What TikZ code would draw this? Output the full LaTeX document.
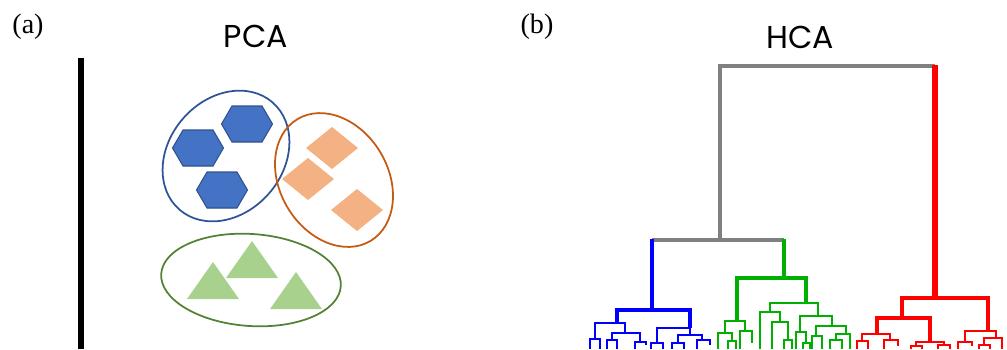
\documentclass[tikz,border=0pt]{standalone}
\usepackage{fontspec}
\setmainfont{Liberation Serif}
\newfontfamily\titlefont{Poppins}
\usetikzlibrary{shapes.geometric}

\definecolor{hexblue}{HTML}{4472C4}
\definecolor{hexedge}{HTML}{2F528F}
\definecolor{ringblue}{HTML}{2F5597}
\definecolor{ringorange}{HTML}{C55A11}
\definecolor{ringgreen}{HTML}{548235}
\definecolor{diamondfill}{HTML}{F4B183}
\definecolor{trifill}{HTML}{A9D18E}
\definecolor{treegray}{HTML}{808080}
\definecolor{treeblue}{HTML}{0000FF}
\definecolor{treegreen}{HTML}{00B000}
\definecolor{treered}{HTML}{FF0000}

% one U-shaped merge of the dendrogram: x-left, x-right, merge height, foot heights
\newcommand{\dlink}[6][]{\draw[#1] (#2,#5) -- (#2,#4) -- (#3,#4) -- (#3,#6);}

\begin{document}
\begin{tikzpicture}[x=0.2mm, y=-0.2mm,
    panel/.style={font=\fontsize{16}{19}\selectfont},
    title/.style={font=\titlefont\fontsize{18}{21}\selectfont},
    ring/.style={draw, ellipse, line width=1pt, inner sep=0pt},
    hexa/.pic={\filldraw[fill=hexblue, draw=hexedge, line width=0.6pt] (-25.5,0) -- (-15,-18) -- (15,-18) -- (25.5,0) -- (15,18) -- (-15,18) -- cycle;},
    rhomb/.pic={\fill[diamondfill] (0,-21) -- (26,0) -- (0,21) -- (-26,0) -- cycle;},
    tri/.pic={\fill[trifill] (0,-19) -- (26,18) -- (-26,18) -- cycle;},
    link/.style={line join=miter},
    gtrunk/.style={link, treegray, line width=2.8pt},
    bthick/.style={link, treeblue, line width=2.4pt},
    bthin/.style={link, treeblue, line width=0.8pt},
    gthick/.style={link, treegreen, line width=2.4pt},
    gmid/.style={link, treegreen, line width=1.6pt},
    gthin/.style={link, treegreen, line width=0.8pt},
    rthick/.style={link, treered, line width=2.8pt},
    rmid/.style={link, treered, line width=1.8pt},
    rthin/.style={link, treered, line width=0.8pt}
]
    \useasboundingbox (0,0) rectangle (1007,349);

    % panel labels
    \node[panel] (pa) at (28,27) {(a)};
    \node[panel] (pb) at (537,27) {(b)};
    \node[title] (pca) at (256,36) {PCA};
    \node[title] (hca) at (800,37) {HCA};

    % PCA: axis and three clusters
    \draw[line width=3.4pt] (81,58) -- (81,349);
    \node[ring, draw=ringblue, minimum width=28.4mm, minimum height=22.8mm, rotate=49] (cblue) at (226,156) {};
    \node[ring, draw=ringorange, minimum width=28.4mm, minimum height=21.6mm, rotate=-59] (corange) at (334,180) {};
    \node[ring, draw=ringgreen, minimum width=36mm, minimum height=18.4mm, rotate=-4] (cgreen) at (251,280) {};

    \pic at (247,124) {hexa};
    \pic at (198,148) {hexa};
    \pic at (222,190) {hexa};
    \pic at (332,148) {rhomb};
    \pic at (308,179) {rhomb};
    \pic at (357,210) {rhomb};
    \pic at (213,281) {tri};
    \pic at (252,260) {tri};
    \pic at (296,291) {tri};

    % HCA: top merges
    \draw[gtrunk] (720,240) -- (720,66) -- (935,66);
    \draw[gtrunk] (652,240) -- (784,240);
    \draw[rthick, line width=3.4pt] (935,65) -- (935,298);
    \draw[bthick, line width=2.8pt] (652,239) -- (652,310);
    \draw[gthick, line width=2.8pt] (784,239) -- (784,278);

    % blue branch
    \dlink[bthick]{617}{690}{310}{323}{328}
    \dlink[bthin]{595}{625}{323}{339}{333}
    \dlink[bthin]{590}{600}{339}{349}{349}
    \dlink[bthin]{612}{640}{333}{340}{342}
    \dlink[bthin]{607}{617}{340}{349}{349}
    \dlink[bthin]{635}{646}{342}{349}{345}
    \dlink[bthin]{657}{690}{328}{343}{335}
    \dlink[bthin]{651}{663}{343}{349}{349}
    \dlink[bthin]{678}{702}{335}{343}{340}
    \dlink[bthin]{672}{684}{343}{349}{349}
    \dlink[bthin]{697}{710}{340}{349}{345}

    % green branch
    \dlink[gthick]{737}{806}{278}{321}{303}
    \dlink[gthin]{725}{745}{321}{333}{331}
    \dlink[gthin]{718}{732}{333}{349}{341}
    \dlink[gthin]{728}{736}{341}{349}{349}
    \dlink[gthin]{740}{752}{331}{349}{343}
    \dlink[gmid]{770}{818}{303}{312}{316}
    \dlink[gthin]{760}{780}{312}{349}{322}
    \dlink[gthin]{772}{788}{322}{349}{340}
    \dlink[gthin]{784}{792}{340}{349}{349}
    \dlink[gmid]{800}{832}{316}{332}{326}
    \dlink[gthin]{796}{806}{332}{349}{343}
    \dlink[gthin]{803}{810}{343}{349}{349}
    \dlink[gthin]{816}{846}{326}{336}{334}
    \dlink[gthin]{812}{822}{336}{349}{349}
    \dlink[gthin]{836}{850}{334}{340}{349}
    \dlink[gthin]{830}{842}{340}{349}{349}

    % red branch
    \dlink[rthick]{902}{988}{298}{318}{331}
    \dlink[rmid]{877}{930}{318}{334}{342}
    \dlink[rthin]{862}{890}{334}{341}{340}
    \dlink[rthin]{857}{868}{341}{349}{349}
    \dlink[rthin]{884}{898}{340}{349}{346}
    \dlink[rthin]{916}{944}{342}{346}{345}
    \dlink[rthin]{911}{922}{346}{349}{349}
    \dlink[rthin]{938}{950}{345}{349}{349}
    \dlink[rthin]{965}{996}{331}{342}{338}
    \dlink[rthin]{958}{972}{342}{349}{346}
    \dlink[rthin]{984}{1002}{338}{345}{349}
    \dlink[rthin]{979}{990}{345}{349}{349}

\end{tikzpicture}
\end{document}
